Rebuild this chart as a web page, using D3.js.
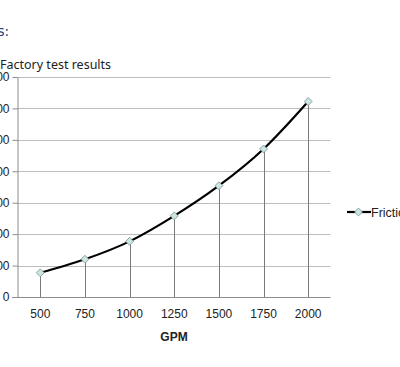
<!DOCTYPE html>
<html><head><meta charset="utf-8">
<script src="https://cdn.jsdelivr.net/npm/d3@7"></script>
<style>html,body{margin:0;padding:0;background:#fff;overflow:hidden}</style>
</head><body>
<svg id="c" width="400" height="367"></svg>
<script>
const categories = ["500","750","1000","1250","1500","1750","2000"];
const friction = [77, 120, 177, 258, 354, 471, 622];
const yTicks = [0,100,200,300,400,500,600,700];
const seriesName = "Friction loss";

const svg = d3.select("#c");
const x = d3.scaleBand().domain(categories).range([18, 330.5]);
const y = d3.scaleLinear().domain([0,700]).range([297, 77]);
const cx = d => x(d) + x.bandwidth()/2;

svg.append("text").attr("x",9).attr("y",36).attr("text-anchor","end").attr("font-family","DejaVu Sans").attr("font-size",13.5).attr("fill","#1f3a7a").text("Results:");
svg.append("text").attr("x",0).attr("y",69).attr("font-family","Noto Sans").attr("font-size",12.5).attr("fill","#222").text("Factory test results");

// gridlines
svg.append("g").selectAll("line").data(yTicks.slice(1)).join("line")
  .attr("x1",17).attr("x2",330.5).attr("y1",d=>Math.round(y(d))+0.5).attr("y2",d=>Math.round(y(d))+0.5)
  .attr("stroke","#bdbdbd").attr("stroke-width",1);

// y axis
const ya = svg.append("g").attr("transform","translate(17.5,0)")
  .call(d3.axisLeft(y).tickValues(yTicks).tickSize(5).tickPadding(3).tickSizeOuter(0));
ya.select(".domain").attr("stroke","#8c8c8c");
ya.selectAll(".tick line").attr("stroke","#8c8c8c");
ya.selectAll("text").attr("font-family","Liberation Sans, Arial").attr("font-size",12).attr("fill","#222");

// x axis
const xa = svg.append("g").attr("transform","translate(0,297.5)")
  .call(d3.axisBottom(x).tickSize(0).tickPadding(12));
xa.select(".domain").attr("stroke","#8c8c8c").attr("d","M12,0H330.5");
xa.selectAll("text").attr("font-family","Liberation Sans, Arial").attr("font-size",12).attr("fill","#222");

svg.append("text").attr("x",174).attr("y",341).attr("text-anchor","middle")
  .attr("font-family","Liberation Sans, Arial").attr("font-size",12).attr("font-weight","bold").attr("fill","#222").text("GPM");

// drop lines
svg.append("g").selectAll("line").data(categories).join("line")
  .attr("x1",d=>Math.round(cx(d))+0.5).attr("x2",d=>Math.round(cx(d))+0.5)
  .attr("y1",(d,i)=>y(friction[i])).attr("y2",297)
  .attr("stroke","#7a7a7a").attr("stroke-width",1);

// line
const line = d3.line().x((d,i)=>cx(categories[i])).y(d=>y(d)).curve(d3.curveMonotoneX);
svg.append("path").datum(friction).attr("d",line).attr("fill","none").attr("stroke","#000").attr("stroke-width",2.2);

const diamond = d3.symbol().type(d3.symbolDiamond2).size(40);
svg.append("g").selectAll("path").data(friction).join("path")
  .attr("d",diamond).attr("transform",(d,i)=>`translate(${cx(categories[i])},${y(d)})`)
  .attr("fill","#c9e6e2").attr("stroke","#7f8f8f").attr("stroke-width",0.8);

// legend
const lg = svg.append("g").attr("transform","translate(0,212)");
lg.append("line").attr("x1",347).attr("x2",371).attr("y1",0).attr("y2",0).attr("stroke","#000").attr("stroke-width",2.2);
lg.append("path").attr("d",diamond).attr("transform","translate(358.5,0)").attr("fill","#c9e6e2").attr("stroke","#7f8f8f").attr("stroke-width",0.8);
lg.append("text").attr("x",371).attr("y",4.5).attr("font-family","Liberation Sans, Arial").attr("font-size",12.5).attr("fill","#222").text(seriesName);
</script>
</body></html>
